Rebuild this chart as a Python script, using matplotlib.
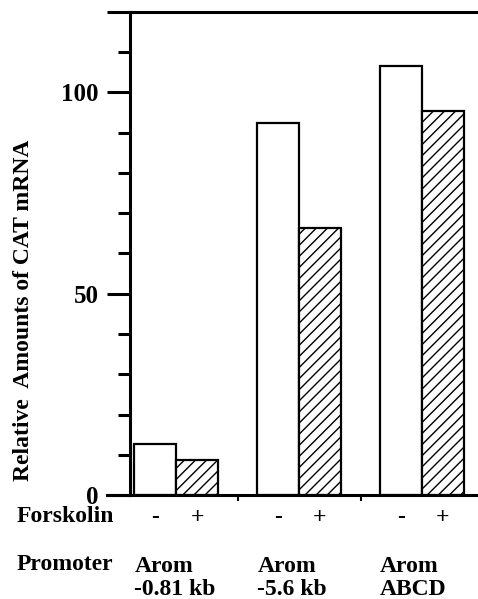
import matplotlib.pyplot as plt
import numpy as np

plt.rcParams['font.family'] = ['Liberation Serif', 'DejaVu Serif']
plt.rcParams['font.weight'] = 'bold'
plt.rcParams['hatch.linewidth'] = 1.0

promoters = ["Arom\n-0.81 kb", "Arom\n-5.6 kb", "Arom\nABCD"]
minus_forskolin = [12.6, 92.3, 106.7]
plus_forskolin = [8.7, 66.3, 95.5]

fig = plt.figure(figsize=(4.78, 5.99), dpi=100)
ax = fig.add_axes([130 / 478, 1 - 495 / 599, 1 - 130 / 478, (495 - 12) / 599])

x = np.arange(len(promoters))
w = 0.34
ax.bar(x - w / 2, minus_forskolin, w, color="white", edgecolor="black", linewidth=1.6)
ax.bar(x + w / 2, plus_forskolin, w, color="white", edgecolor="black", linewidth=1.6,
       hatch="///")

ax.set_xlim(-0.375, 2.455)
ax.set_ylim(0, 120)

for s in ["left", "top", "bottom"]:
    ax.spines[s].set_linewidth(2.2)
ax.spines["right"].set_visible(False)

ax.set_yticks([0, 50, 100, 120])
ax.set_yticklabels(["0", "50", "100", ""], fontsize=18)
ax.set_yticks([10, 20, 30, 40, 60, 70, 80, 90, 110], minor=True)
ax.tick_params(axis="y", which="major", length=16.5, width=2.2, pad=6)
ax.tick_params(axis="y", which="minor", length=9, width=2.2)

ax.set_xticks([0.5, 1.5])
ax.set_xticklabels([])
ax.tick_params(axis="x", which="major", length=4, width=1.5, direction="out")

# bottom line continues left like the 0 tick
ax.plot([-0.375 - 23 / 123, -0.375], [0, 0], color="black", lw=2.2, clip_on=False)

fig.text(24 / 478, 1 - 310 / 599, "Relative  Amounts of CAT mRNA", rotation=90,
         ha="center", va="center", fontsize=17)

fig.text(17 / 478, 1 - 517 / 599, "Forskolin", ha="left", va="center", fontsize=17)
fig.text(17 / 478, 1 - 565 / 599, "Promoter", ha="left", va="center", fontsize=17)

for i in range(len(promoters)):
    ax.text(x[i] - w / 2, -5.5, "-", ha="center", va="center", fontsize=17)
    ax.text(x[i] + w / 2, -5.5, "+", ha="center", va="center", fontsize=17)
    ax.text(x[i] - w, -20.6, promoters[i], ha="left", va="center", fontsize=17,
            linespacing=1.1)

fig.savefig("out.png", dpi=100)
